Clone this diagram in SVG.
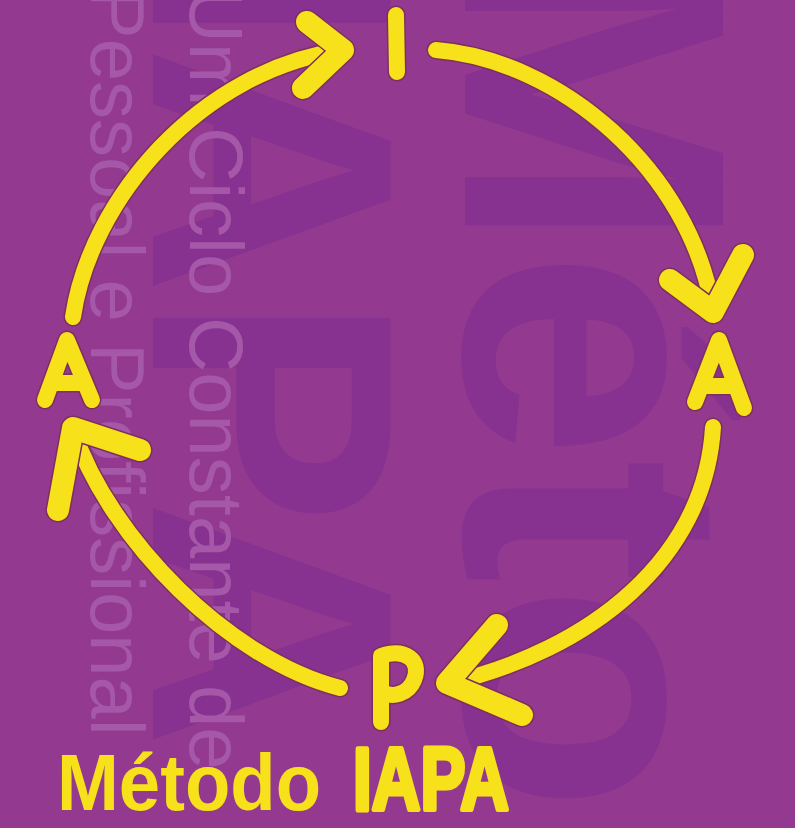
<svg xmlns="http://www.w3.org/2000/svg" width="795" height="828" viewBox="0 0 795 828">
<style>
.bg-big{font-family:"Liberation Sans",Arial,sans-serif;font-weight:bold;fill:#873190}
.bg-small{font-family:"Liberation Sans",Arial,sans-serif;font-size:76px;fill:#A558A8}
.out{fill:none;stroke:#7E2F5E;stroke-linecap:round;stroke-linejoin:round}
.ink{fill:none;stroke:#F6E11B;stroke-linecap:round;stroke-linejoin:round}
.shaft-o{stroke-width:19}
.shaft{stroke-width:16}
.head-o{stroke-width:25}
.head{stroke-width:22}
.node-o{stroke-width:19}
.node{stroke-width:16}
.title{font-family:"Liberation Sans",Arial,sans-serif;font-weight:bold;fill:#F6E11B}
</style>
<defs>
<path id="c1" d="M73,317 C90,200 200,70 343,50"/>
<path id="h1" d="M307,22 L343,50 L303,88"/>
<path id="c2" d="M436,50 C560,60 690,170 713,310"/>
<path id="h2" d="M670,280 L713,312 L743,255"/>
<path id="c3" d="M713,427 C705,560 590,650 450,683"/>
<path id="h3" d="M497,625 L447,683 L522,715"/>
<path id="c4" d="M340,688 C230,660 110,540 73,430"/>
<path id="h4" d="M140,450 L73,428 L58,510"/>
<path id="nI" d="M396,15 L397,72"/>
<path id="nA1" d="M695,402 L719,340 L744,408 M705,386 L734,386"/>
<path id="nP" d="M381,722 L381,656 C405,648 422,660 414,680 C408,695 392,697 384,693"/>
<path id="nA2" d="M45,400 L67,340 L92,400 M54,383 L82,383"/>
</defs>
<rect x="0" y="0" width="795" height="828" fill="#943990"/>
<g id="background-text">
<text class="bg-big" font-size="375" transform="translate(465,-62) rotate(90)">Método</text>
<text class="bg-big" font-size="345" transform="translate(153,-50) rotate(90)">IAPA</text>
<text class="bg-small" transform="translate(190,-12) rotate(90)">Um Ciclo Constante de</text>
<text class="bg-small" transform="translate(91,-12) rotate(90)">Pessoal e Profissional</text>
</g>
<g id="connectors">
<use href="#c1" class="out shaft-o"/><use href="#c1" class="ink shaft"/>
<use href="#h1" class="out head-o"/><use href="#h1" class="ink head"/>
<use href="#c2" class="out shaft-o"/><use href="#c2" class="ink shaft"/>
<use href="#h2" class="out head-o"/><use href="#h2" class="ink head"/>
<use href="#c3" class="out shaft-o"/><use href="#c3" class="ink shaft"/>
<use href="#h3" class="out head-o"/><use href="#h3" class="ink head"/>
<use href="#c4" class="out shaft-o"/><use href="#c4" class="ink shaft"/>
<use href="#h4" class="out head-o"/><use href="#h4" class="ink head"/>
</g>
<g id="node-I">
<use href="#nI" class="out node-o"/><use href="#nI" class="ink node"/>
</g>
<g id="node-A-right">
<use href="#nA1" class="out node-o"/><use href="#nA1" class="ink node"/>
</g>
<g id="node-P">
<use href="#nP" class="out node-o"/><use href="#nP" class="ink node"/>
</g>
<g id="node-A-left">
<use href="#nA2" class="out node-o"/><use href="#nA2" class="ink node"/>
</g>
<g id="title">
<text class="title" x="57" y="810" font-size="79" textLength="264" lengthAdjust="spacingAndGlyphs">Método</text>
<text class="title" x="353" y="810" font-size="89" textLength="156" lengthAdjust="spacingAndGlyphs" stroke="#F6E11B" stroke-width="5" stroke-linejoin="round">IAPA</text>
</g>
</svg>
